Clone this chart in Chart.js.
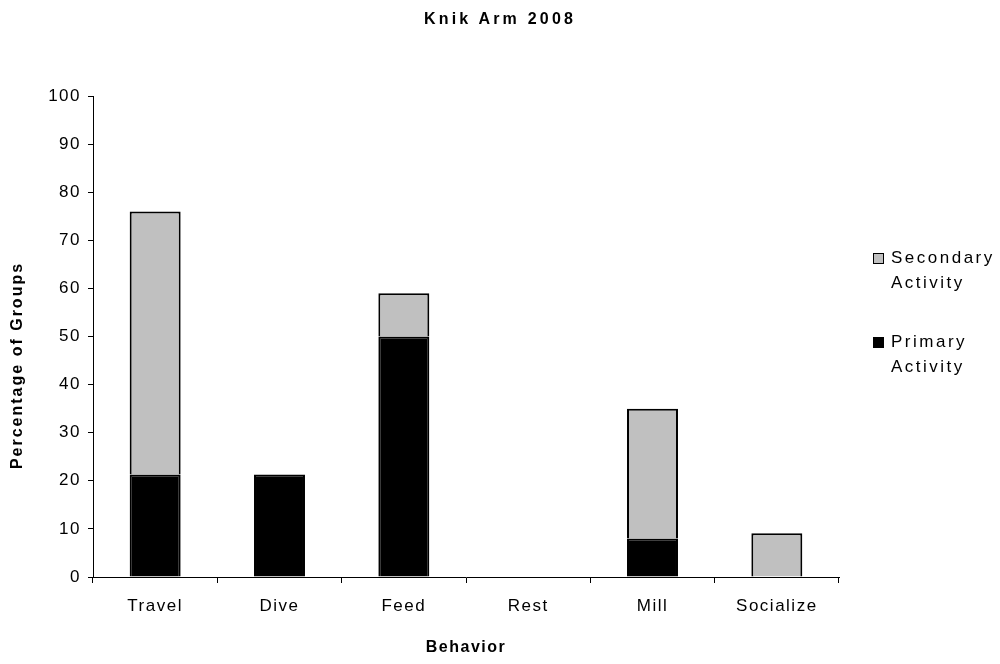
<!DOCTYPE html>
<html>
<head>
<meta charset="utf-8">
<script src="https://cdn.jsdelivr.net/npm/chart.js@4"></script>
<style>
  html, body { margin: 0; padding: 0; background: #fff; }
  #wrap { position: relative; width: 1000px; height: 664px; font-family: "Liberation Sans", Arial, sans-serif; color: #000; }
  #title { position: absolute; left: 0; width: 1000px; top: 10px; text-align: center; font-weight: bold; font-size: 16px; letter-spacing: 3.2px; }
  #legend { position: absolute; left: 873px; top: 245px; font-size: 17px; letter-spacing: 2.5px; line-height: 25px; }
  .item { display: flex; align-items: flex-start; margin-bottom: 34px; }
  .sw { width: 9px; height: 9px; border: 1px solid #000; margin-top: 8px; margin-right: 7px; flex: none; }
</style>
</head>
<body>
<div id="wrap">
  <canvas id="c" width="1000" height="664"></canvas>
  <div id="title"></div>
  <div id="legend"></div>
</div>
<script>
// Behaviour of groups, Knik Arm 2008 (percent of groups)
const chartTitle = 'Knik Arm 2008';
const categories = ['Travel', 'Dive', 'Feed', 'Rest', 'Mill', 'Socialize'];
const primaryActivity = [21.3, 21.3, 50, 0, 8, 0];
const secondaryActivity = [54.7, 0, 9, 0, 27, 9.1];
const primaryLabel = ['Primary', 'Activity'];
const secondaryLabel = ['Secondary', 'Activity'];
const xAxisTitle = 'Behavior';
const yAxisTitle = 'Percentage of Groups';
const yMin = 0, yMax = 100, yStep = 10;

const FONT = '"Liberation Sans", Arial, sans-serif';
Chart.defaults.font.family = FONT;
Chart.defaults.color = '#000';

// Spread out the canvas text slightly
const spacedText = {
  id: 'spacedText',
  beforeDraw(chart) { chart.ctx.letterSpacing = '1.5px'; }
};

// Vertical axis title, drawn on the left margin
const yTitle = {
  id: 'yTitle',
  afterDraw(chart) {
    const { ctx, chartArea } = chart;
    ctx.save();
    ctx.translate(18, (chartArea.top + chartArea.bottom) / 2 + 29);
    ctx.rotate(-Math.PI / 2);
    ctx.textAlign = 'center';
    ctx.textBaseline = 'middle';
    ctx.font = 'bold 16px ' + FONT;
    ctx.letterSpacing = '2px';
    ctx.fillStyle = '#000';
    ctx.fillText(yAxisTitle, 0, 0);
    ctx.restore();
  }
};

const chart = new Chart(document.getElementById('c'), {
  type: 'bar',
  data: {
    labels: categories,
    datasets: [
      { label: primaryLabel, data: primaryActivity, backgroundColor: '#000000', borderColor: '#000000', borderWidth: 2, stack: 'a' },
      { label: secondaryLabel, data: secondaryActivity, backgroundColor: '#c0c0c0', borderColor: '#000000', borderWidth: 2, stack: 'a' }
    ]
  },
  options: {
    responsive: false,
    animation: false,
    layout: { padding: { left: 0, right: 161, top: 96, bottom: 0 } },
    datasets: { bar: { barPercentage: 0.41, categoryPercentage: 1 } },
    plugins: { legend: { display: false }, title: { display: false }, tooltip: { enabled: false } },
    scales: {
      x: {
        stacked: true,
        grid: { display: true, drawOnChartArea: false, offset: true, tickLength: 6, color: '#000', lineWidth: 1 },
        border: { color: '#000', width: 1 },
        ticks: { font: { size: 17 }, padding: 13, color: '#000' },
        title: { display: true, text: xAxisTitle, font: { size: 16, weight: 'bold' }, padding: { top: 0, bottom: 7 } },
        afterFit(s) { s.height = 87; }
      },
      y: {
        stacked: true,
        min: yMin, max: yMax,
        ticks: { stepSize: yStep, font: { size: 17 }, padding: 7, color: '#000' },
        grid: { drawOnChartArea: false, tickLength: 5, color: '#000', lineWidth: 1 },
        border: { color: '#000', width: 1 },
        afterFit(s) { s.width = 93; }
      }
    }
  },
  plugins: [spacedText, yTitle]
});

// Title and legend text
document.getElementById('title').textContent = chartTitle;
const legend = document.getElementById('legend');
chart.data.datasets.slice().reverse().forEach(ds => {
  const item = document.createElement('div');
  item.className = 'item';
  const sw = document.createElement('div');
  sw.className = 'sw';
  sw.style.background = ds.backgroundColor;
  const txt = document.createElement('div');
  txt.innerHTML = ds.label.join('<br>');
  item.appendChild(sw);
  item.appendChild(txt);
  legend.appendChild(item);
});
</script>
</body>
</html>
